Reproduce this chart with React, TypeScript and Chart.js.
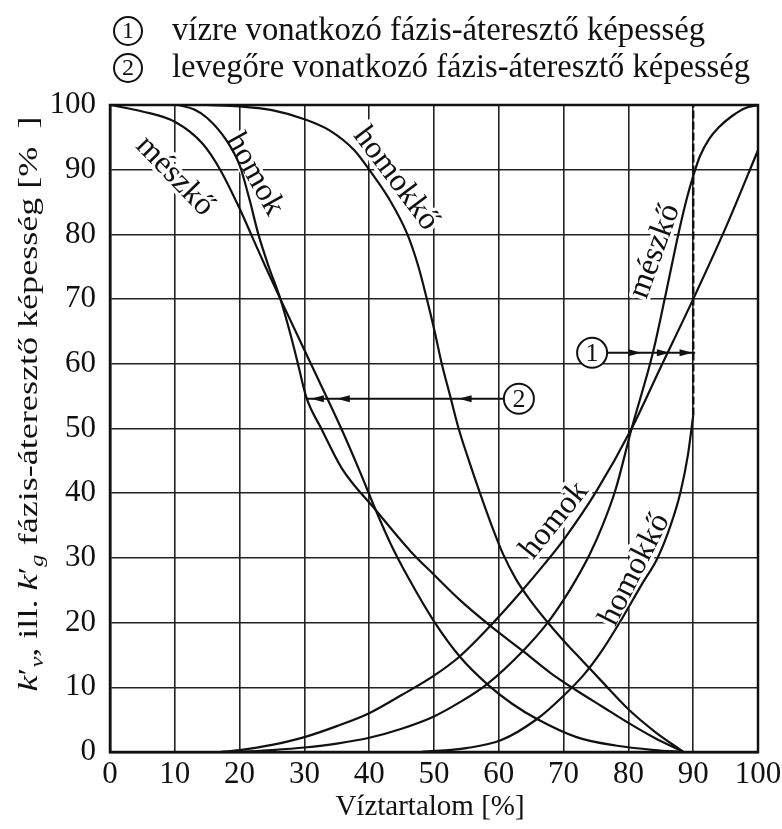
import React, { useEffect, useRef } from "react";
import { Chart, registerables } from "chart.js";

Chart.register(...registerables);

// ---------- data ----------
const xTickValues = [0, 10, 20, 30, 40, 50, 60, 70, 80, 90, 100];
const yTickValues = [0, 10, 20, 30, 40, 50, 60, 70, 80, 90, 100];

// gas (air) phase permeability – decreasing curves
const meszkoGas: [number, number][] = [
  [0, 100], [5, 99], [10, 97.4], [14.3, 94], [17, 90], [20, 84], [22, 79.5], [24, 75], [26.3, 70],
  [31, 60], [35.6, 50.2], [38.5, 43.5], [41, 37.4], [43.3, 32.2], [46, 27], [50, 20.2],
  [54.1, 14.6], [58.2, 10.5], [62, 7.5], [65.9, 5.1], [72, 2.3], [78, 1], [84, 0.3], [88.5, 0],
];
const homokGas: [number, number][] = [
  [10.5, 100], [13, 99.3], [15, 98], [18, 94.5], [20, 90.7], [21.5, 85.5], [22.9, 80], [24.5, 75],
  [26.3, 70], [28, 64], [29, 60], [30.3, 54.8], [32.6, 50], [35.8, 43.8], [41, 37.4], [46.4, 31],
  [50, 27.4], [54.1, 23.4], [58.7, 19.5], [63.6, 15.7], [68, 12.2], [72, 9.5], [76, 7], [80, 4.5],
  [84, 2.2], [88.5, 0],
];
const homokkoGas: [number, number][] = [
  [15, 100], [20, 99.8], [25, 99.2], [30, 97.8], [34, 96], [37.7, 93], [40, 90], [43, 85.6],
  [45.9, 80], [47.6, 75], [48.9, 70], [50.1, 65], [51.2, 60], [52.5, 55], [53.8, 50], [55.4, 45],
  [57.1, 40], [58.9, 35], [60.7, 30.5], [62.6, 26.8], [64.8, 23.5], [67.4, 20.2], [70, 17.2],
  [73, 14], [76, 10.8], [80, 6.6], [84, 3.2], [88.5, 0],
];

// water phase permeability – increasing curves
const meszkoWater: [number, number][] = [
  [20, 0], [25, 0.3], [30, 0.7], [35, 1.3], [40, 2.2], [45, 3.6], [50, 5.5], [54, 7.7], [58.2, 10.5],
  [63.8, 15.7], [67.4, 19.8], [70, 23.5], [72, 26.8], [74, 30.5], [76, 35], [78, 40.5], [80.5, 50],
  [83.8, 61.8], [85.6, 70], [87.7, 80], [89, 85.5], [90, 89], [91, 92], [92.5, 94.8], [94, 96.6],
  [96, 98.3], [98, 99.5], [100, 100],
];
const homokWater: [number, number][] = [
  [17, 0], [20, 0.3], [25, 1.1], [30, 2.3], [35, 4], [40, 6], [45, 8.8], [50, 11.8], [54, 14.8],
  [58.7, 19.5], [63.3, 24.6], [67, 29], [70, 32.8], [75, 40.2], [80.5, 50], [85, 59.5], [90, 70],
  [95, 81], [100, 93],
];
const homokkoWater: [number, number][] = [
  [48, 0], [55, 0.6], [60.3, 1.8], [65.9, 5.1], [70, 8.7], [73, 11.8], [76, 15.8], [79, 20.6],
  [82, 25.8], [84.5, 30], [86.5, 35], [88, 40], [89.2, 46], [90, 52],
];
const residualGasLine: [number, number][] = [[90, 52], [90, 100]];

// curve labels
const labelTexts = ["mészkő", "homok", "homokkő", "mészkő", "homok", "homokkő"];
const labelX = [10, 22.3, 44.1, 84.1, 68.6, 81];
const labelY = [89, 89.3, 88.6, 77.4, 35.8, 28.2];
const labelAngle = [46, 61, 53, -70, -51, -63];

// arrow annotations
const arrow1Circle: [number, number] = [74.4, 61.7];
const arrow1End = 90.3;
const arrow1Heads = [82, 86.4, 89.9];
const arrow2Circle: [number, number] = [63.1, 54.6];
const arrow2End = 30.3;
const arrow2Heads = [31, 35, 53.8];

const legendTexts = [
  "vízre vonatkozó fázis-áteresztő képesség",
  "levegőre vonatkozó fázis-áteresztő képesség",
];
const xTitle = "Víztartalom [%]";

const SERIF = "'Liberation Serif', 'Times New Roman', serif";
const INK = "#111";

function drawCircleNum(ctx: CanvasRenderingContext2D, cx: number, cy: number, r: number, t: string, fs: number) {
  ctx.beginPath();
  ctx.arc(cx, cy, r, 0, Math.PI * 2);
  ctx.lineWidth = 2;
  ctx.strokeStyle = INK;
  ctx.fillStyle = "#fff";
  ctx.fill();
  ctx.stroke();
  ctx.fillStyle = INK;
  ctx.font = `${fs}px ${SERIF}`;
  ctx.textAlign = "center";
  ctx.textBaseline = "middle";
  ctx.fillText(t, cx, cy + 1);
}

function arrowHead(ctx: CanvasRenderingContext2D, tipX: number, y: number, dir: number) {
  ctx.beginPath();
  ctx.moveTo(tipX, y);
  ctx.lineTo(tipX - dir * 13, y - 3.5);
  ctx.lineTo(tipX - dir * 13, y + 3.5);
  ctx.closePath();
  ctx.fillStyle = INK;
  ctx.fill();
}

const overlay = {
  id: "overlay",
  beforeDatasetsDraw(chart: any) {
    const ctx: CanvasRenderingContext2D = chart.ctx;
    const xs = chart.scales.x;
    const ys = chart.scales.y;
    ctx.save();
    ctx.font = `32px ${SERIF}`;
    ctx.textAlign = "center";
    ctx.textBaseline = "middle";
    labelTexts.forEach((t, i) => {
      const px = xs.getPixelForValue(labelX[i]);
      const py = ys.getPixelForValue(labelY[i]);
      ctx.save();
      ctx.translate(px, py);
      ctx.rotate((labelAngle[i] * Math.PI) / 180);
      ctx.lineJoin = "round";
      ctx.lineWidth = 7;
      ctx.strokeStyle = "#fff";
      ctx.strokeText(t, 0, 0);
      ctx.fillStyle = INK;
      ctx.fillText(t, 0, 0);
      ctx.restore();
    });
    ctx.restore();
  },
  afterDraw(chart: any) {
    const ctx: CanvasRenderingContext2D = chart.ctx;
    const xs = chart.scales.x;
    const ys = chart.scales.y;
    const ca = chart.chartArea;
    ctx.save();

    // frame
    ctx.strokeStyle = INK;
    ctx.lineWidth = 2.5;
    ctx.strokeRect(ca.left, ca.top, ca.right - ca.left, ca.bottom - ca.top);

    // arrow 1 (water)
    const a1y = ys.getPixelForValue(arrow1Circle[1]);
    const a1cx = xs.getPixelForValue(arrow1Circle[0]);
    ctx.beginPath();
    ctx.moveTo(a1cx + 15, a1y);
    ctx.lineTo(xs.getPixelForValue(arrow1End), a1y);
    ctx.lineWidth = 2;
    ctx.strokeStyle = INK;
    ctx.stroke();
    arrow1Heads.forEach((h) => arrowHead(ctx, xs.getPixelForValue(h), a1y, 1));
    drawCircleNum(ctx, a1cx, a1y, 15, "1", 26);

    // arrow 2 (gas)
    const a2y = ys.getPixelForValue(arrow2Circle[1]);
    const a2cx = xs.getPixelForValue(arrow2Circle[0]);
    ctx.beginPath();
    ctx.moveTo(a2cx - 15, a2y);
    ctx.lineTo(xs.getPixelForValue(arrow2End), a2y);
    ctx.lineWidth = 2;
    ctx.strokeStyle = INK;
    ctx.stroke();
    arrow2Heads.forEach((h) => arrowHead(ctx, xs.getPixelForValue(h), a2y, -1));
    drawCircleNum(ctx, a2cx, a2y, 15, "2", 26);

    // legend
    const legendY = [31, 68];
    const legendBase = [40, 77];
    const legendW = [533, 578];
    legendTexts.forEach((t, i) => {
      drawCircleNum(ctx, 128, legendY[i], 14, String(i + 1), 24);
      ctx.font = `33px ${SERIF}`;
      ctx.textAlign = "left";
      ctx.textBaseline = "alphabetic";
      ctx.fillStyle = INK;
      const w = ctx.measureText(t).width;
      ctx.save();
      ctx.translate(172, legendBase[i]);
      ctx.scale(legendW[i] / w, 1);
      ctx.fillText(t, 0, 0);
      ctx.restore();
    });

    // x title
    ctx.font = `29px ${SERIF}`;
    ctx.textAlign = "center";
    ctx.textBaseline = "middle";
    ctx.fillStyle = INK;
    ctx.fillText(xTitle, 430, 807);

    // y title with primes and subscripts
    const fs = 28;
    const sub = 19;
    const parts: { t: string; it?: boolean; sub?: boolean }[] = [
      { t: "k", it: true }, { t: "′" }, { t: "v", it: true, sub: true }, { t: ", ill. " },
      { t: "k", it: true }, { t: "′" }, { t: "g", it: true, sub: true },
      { t: " fázis-áteresztő képesség [%  ]" },
    ];
    const fontOf = (p: any) => `${p.it ? "italic " : ""}${p.sub ? sub : fs}px ${SERIF}`;
    let total = 0;
    const widths = parts.map((p) => {
      ctx.font = fontOf(p);
      const w = ctx.measureText(p.t).width;
      total += w;
      return w;
    });
    const targetLen = 575;
    ctx.save();
    ctx.translate(30, 404);
    ctx.rotate(-Math.PI / 2);
    ctx.scale(targetLen / total, 1);
    ctx.textAlign = "left";
    ctx.textBaseline = "middle";
    let x = -total / 2;
    parts.forEach((p, i) => {
      ctx.font = fontOf(p);
      ctx.fillText(p.t, x, p.sub ? 8 : 0);
      x += widths[i];
    });
    ctx.restore();

    ctx.restore();
  },
};

function ds(data: [number, number][], extra: any = {}) {
  return {
    data: data.map(([x, y]) => ({ x, y })),
    showLine: true,
    borderColor: INK,
    borderWidth: 2.2,
    pointRadius: 0,
    fill: false,
    cubicInterpolationMode: "monotone",
    ...extra,
  };
}

export default function App() {
  const ref = useRef<HTMLCanvasElement>(null);
  useEffect(() => {
    if (!ref.current) return;
    const tickFont = { family: SERIF, size: 31 };
    const chart = new Chart(ref.current, {
      type: "scatter",
      data: {
        datasets: [
          ds(meszkoGas), ds(homokGas), ds(homokkoGas),
          ds(meszkoWater), ds(homokWater), ds(homokkoWater),
          ds(residualGasLine, { cubicInterpolationMode: "default", tension: 0, borderDash: [8, 3], borderWidth: 2.5 }),
        ] as any,
      },
      options: {
        animation: false,
        responsive: false,
        devicePixelRatio: 1,
        layout: { padding: { top: 105, right: 24, left: 0, bottom: 0 } },
        plugins: { legend: { display: false }, tooltip: { enabled: false } },
        scales: {
          x: {
            type: "linear",
            min: 0,
            max: 100,
            afterBuildTicks: (s: any) => { s.ticks = xTickValues.map((v) => ({ value: v })); },
            afterFit: (s: any) => { s.height = 77; s.paddingRight = 0; s.paddingLeft = 0; },
            ticks: { font: tickFont, color: INK, padding: 4, maxRotation: 0 },
            grid: { color: "#222", lineWidth: 1.6, drawTicks: false },
            border: { color: INK, width: 2.5 },
          },
          y: {
            type: "linear",
            min: 0,
            max: 100,
            afterBuildTicks: (s: any) => { s.ticks = yTickValues.map((v) => ({ value: v })); },
            afterFit: (s: any) => { s.width = 110; },
            ticks: { font: tickFont, color: INK, padding: 14 },
            grid: { color: "#222", lineWidth: 1.6, drawTicks: false },
            border: { color: INK, width: 2.5 },
          },
        },
      } as any,
      plugins: [overlay],
    });
    return () => chart.destroy();
  }, []);
  return (
    <div style={{ position: "absolute", left: 0, top: 0, width: 782, height: 829, background: "#fff" }}>
      <canvas ref={ref} width={782} height={829} style={{ display: "block" }} />
    </div>
  );
}
